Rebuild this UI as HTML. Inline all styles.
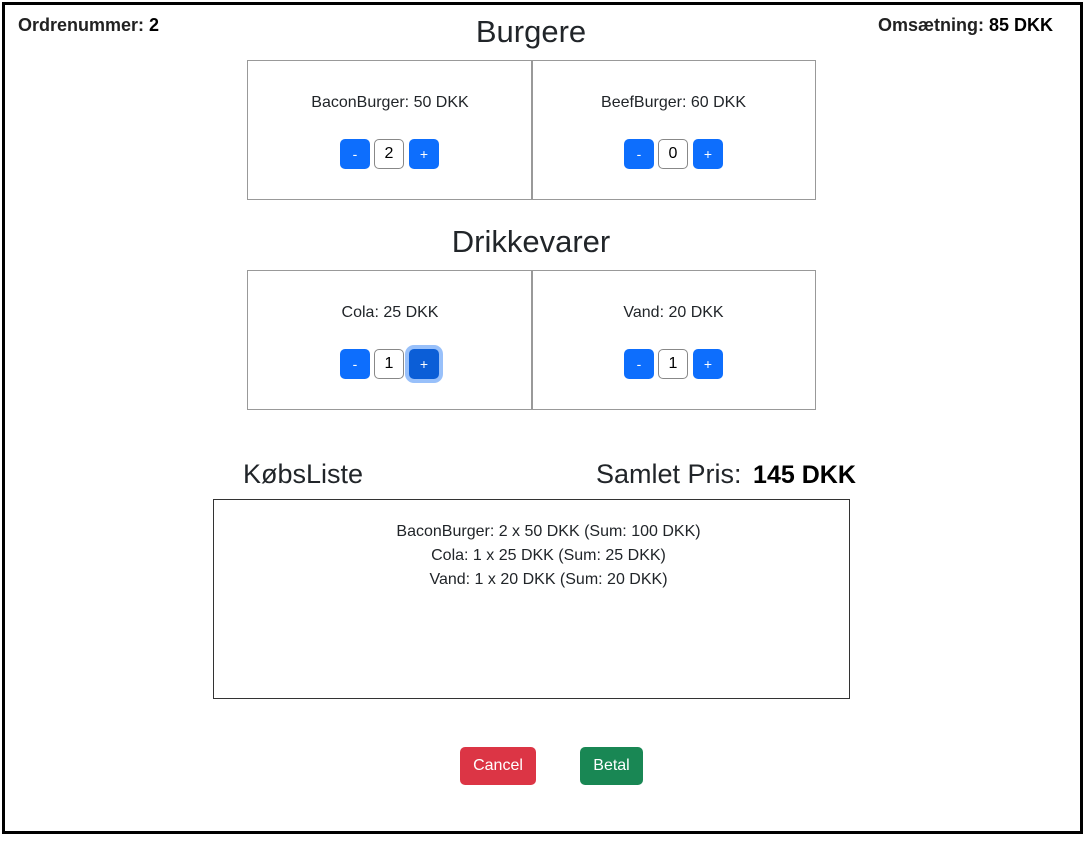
<!DOCTYPE html>
<html><head><style>
body{margin:0;width:1085px;height:844px;background:#fff;position:relative;font-family:"Liberation Sans",sans-serif;color:#212529;overflow:hidden}
.a{position:absolute}
.frame{left:2px;top:2px;width:1075px;height:826px;border:3px solid #000}
.card{border:1px solid #999;box-sizing:border-box;height:140px}
.lbl{font-size:16px;text-align:center;width:100%;top:33px}
.btn{position:absolute;width:30px;height:30px;background:#0d6efd;color:#fff;border-radius:5px;font-size:14px;text-align:center;line-height:30px}
.inp{position:absolute;width:30px;height:30px;box-sizing:border-box;border:1px solid #888;border-radius:5px;text-align:center;line-height:28px;font-size:16px;color:#000}
h{position:absolute;font-size:31px;text-align:center}
</style></head><body>
<div class="a frame"></div>
<div class="a" style="left:18px;top:15px;font-weight:bold;font-size:18px;color:#222">Ordrenummer: <span style="color:#000">2</span></div>
<div class="a" style="left:878px;top:15px;font-weight:bold;font-size:18px;color:#222">Omsætning: <span style="color:#000">85 DKK</span></div>
<h style="left:431px;width:200px;top:14px">Burgere</h>
<div class="a card" style="left:247px;top:60px;width:286px"><div class="a lbl">BaconBurger: 50 DKK</div>
<div class="btn" style="left:92px;top:78px">-</div><div class="inp" style="left:126px;top:78px">2</div><div class="btn" style="left:161px;top:78px">+</div></div>
<div class="a card" style="left:531px;top:60px;width:285px"><div class="a lbl">BeefBurger: 60 DKK</div>
<div class="btn" style="left:92px;top:78px">-</div><div class="inp" style="left:126px;top:78px">0</div><div class="btn" style="left:161px;top:78px">+</div></div>
<h style="left:381px;width:300px;top:224px">Drikkevarer</h>
<div class="a card" style="left:247px;top:270px;width:286px"><div class="a lbl">Cola: 25 DKK</div>
<div class="btn" style="left:92px;top:78px">-</div><div class="inp" style="left:126px;top:78px">1</div><div class="btn" style="left:161px;top:78px;background:#0b5ed7;box-shadow:0 0 0 4px #98c0fa">+</div></div>
<div class="a card" style="left:531px;top:270px;width:285px"><div class="a lbl">Vand: 20 DKK</div>
<div class="btn" style="left:92px;top:78px">-</div><div class="inp" style="left:126px;top:78px">1</div><div class="btn" style="left:161px;top:78px">+</div></div>
<div class="a" style="left:243px;top:459px;font-size:27px">KøbsListe</div>
<div class="a" style="left:596px;top:459px;font-size:27px">Samlet Pris: <b style="color:#000;font-size:25px;margin-left:4px">145 DKK</b></div>
<div class="a" style="left:213px;top:499px;width:637px;height:200px;box-sizing:border-box;border:1px solid #333;text-align:center;font-size:16px;line-height:24px;padding-top:20px;padding-left:34px">BaconBurger: 2 x 50 DKK (Sum: 100 DKK)<br>Cola: 1 x 25 DKK (Sum: 25 DKK)<br>Vand: 1 x 20 DKK (Sum: 20 DKK)</div>
<div class="a" style="left:460px;top:747px;width:76px;height:38px;background:#dc3545;color:#fff;border-radius:5px;text-align:center;line-height:38px;font-size:16px">Cancel</div>
<div class="a" style="left:580px;top:747px;width:63px;height:38px;background:#198754;color:#fff;border-radius:5px;text-align:center;line-height:38px;font-size:16px">Betal</div>
</body></html>
